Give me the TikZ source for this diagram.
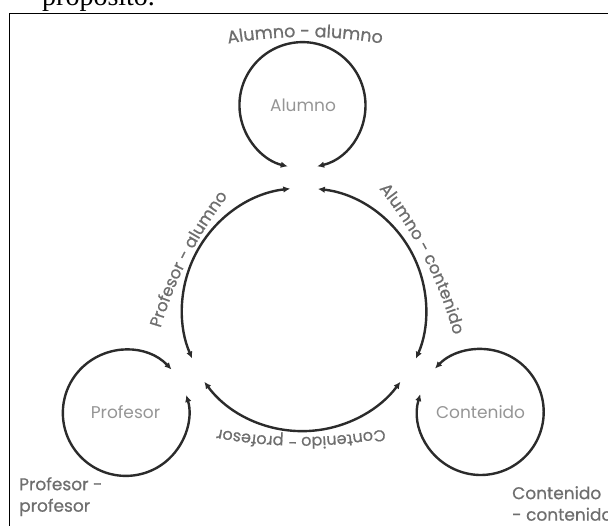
\documentclass[tikz,border=0pt]{standalone}
\usepackage{fontspec}
\setmainfont{Poppins}
\newfontfamily\popb{Poppins}[FakeBold=0.7]
\newfontfamily\serifp{Liberation Serif}
\usetikzlibrary{arrows.meta,calc,decorations.text}
\definecolor{linec}{HTML}{2B2B2B}
\definecolor{outg}{HTML}{6E6E6E}
\definecolor{ing}{HTML}{959595}
\begin{document}
\begin{tikzpicture}[x=1pt,y=1pt,
  arr/.style={line width=2.4pt, draw=linec, {Latex[length=7pt,width=6.5pt]}-{Latex[length=7pt,width=6.5pt]}},
  loopc/.style={circle, minimum size=126pt, inner sep=0pt, outer sep=0pt, text=ing, font=\fontsize{17}{20}\selectfont},
  hubc/.style={circle, minimum size=244pt, inner sep=0pt, outer sep=0pt},
  corner/.style={anchor=north west, align=left, inner sep=0pt, text=outg, font=\popb\fontsize{17}{21.5}\selectfont},
  arclabel/.style n args={2}{decorate, decoration={text along path, text align=center, text={|\popb\fontsize{#1}{19}\selectfont\color{outg}|#2}}}]
\useasboundingbox (0,0) rectangle (608,-525);
\clip (0,0) rectangle (608,-525);
% frame and cut text
\draw[line width=1.8pt, black] (9.5,-540) -- (9.5,-13.5) -- (620,-13.5);
\node[anchor=base west, inner sep=0pt, font=\serifp\fontsize{28}{30}\selectfont] (prop) at (42,-5) {propósito.};
% centre and nodes
\coordinate (C) at (303,-310);
\node[hubc] (hub) at (C) {};
\node[loopc] (alumno) at ($(C)+(90:205)$) {Alumno};
\node[loopc] (profesor) at ($(C)+(210:205)$) {Profesor};
\node[loopc] (contenido) at ($(C)+(330:205)$) {Contenido};
% self loops
\draw[arr] (alumno.283.5) arc[start angle=283.5, end angle=616.5, radius=63pt];
\draw[arr] (profesor.43.5) arc[start angle=43.5, end angle=376.5, radius=63pt];
\draw[arr] (contenido.163.5) arc[start angle=163.5, end angle=496.5, radius=63pt];
% central arcs
\draw[arr] (hub.96.5) arc[start angle=96.5, end angle=203.5, radius=122pt];
\draw[arr] (hub.83.5) arc[start angle=83.5, end angle=-23.5, radius=122pt];
\draw[arr] (hub.216.5) arc[start angle=216.5, end angle=323.5, radius=122pt];
% curved labels
\path[arclabel={17.5}{Alumno - alumno}] ($(305,-37)+(110:450)-(90:450)$) arc[start angle=110, end angle=70, radius=450pt];
\path[arclabel={16.5}{Profesor - alumno}] ($(188,-259)+(178:400)-(153:400)$) arc[start angle=178, end angle=128, radius=400pt];
\path[arclabel={16.5}{Alumno - contenido}] ($(424,-258)+(52:400)-(27:400)$) arc[start angle=52, end angle=2, radius=400pt];
\path[arclabel={16}{Contenido - profesor}] ($(301,-437)+(295:450)-(270:450)$) arc[start angle=295, end angle=245, radius=450pt];
% corner labels
\node[corner] (pp) at (19,-477) {Profesor -\\profesor};
\node[corner] (cc) at (512,-486) {Contenido\\- contenido};
\end{tikzpicture}
\end{document}
